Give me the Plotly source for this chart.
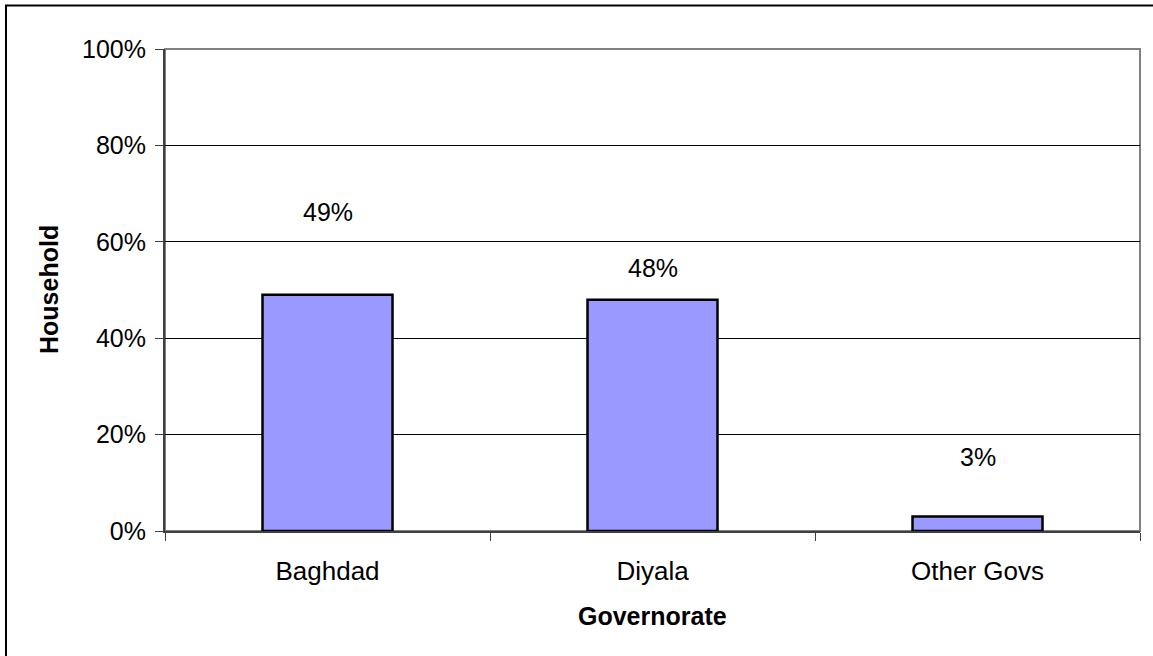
import plotly.graph_objects as go

categories = ["Baghdad", "Diyala", "Other Govs"]
values = [49, 48, 3]
value_labels = ["49%", "48%", "3%"]
label_heights = [66.2, 54.6, 15.4]
y_ticks = [0, 20, 40, 60, 80, 100]
y_tick_text = ["0%", "20%", "40%", "60%", "80%", "100%"]

FONT = "Liberation Sans, Arial, sans-serif"
W, H = 1153, 656
ML, MR, MT, MB = 165, 13, 49, 125
PW, PH = W - ML - MR, H - MT - MB

fig = go.Figure()
fig.add_trace(go.Bar(
    x=categories, y=values, width=0.4,
    marker=dict(color="#9999FF", line=dict(color="black", width=2.5)),
    hoverinfo="skip",
))

for c, t, h in zip(categories, value_labels, label_heights):
    fig.add_annotation(x=c, y=h, text=t, showarrow=False, xref="x", yref="y",
                       yanchor="middle", font=dict(family=FONT, size=25, color="black"))

# axis titles
fig.add_annotation(x=0.5, y=0, xref="paper", yref="paper", yshift=-(616 - (H - MB)),
                   text="<b>Governorate</b>", showarrow=False, yanchor="middle",
                   font=dict(family=FONT, size=25, color="black"))
fig.add_annotation(x=0, y=0.5, xref="paper", yref="paper", xshift=49 - ML,
                   text="<b>Household</b>", showarrow=False, textangle=-90,
                   xanchor="center", yanchor="middle",
                   font=dict(family=FONT, size=25, color="black"))

# plot area frame (grey top/right)
fig.add_shape(type="rect", xref="paper", yref="paper", x0=0, x1=1, y0=0, y1=1,
              line=dict(color="#808080", width=2), layer="below")
# outer chart border
fig.add_shape(type="rect", xref="paper", yref="paper",
              x0=(6 - ML) / PW, x1=(W + 5 - ML) / PW,
              y0=-(H + 5 - (H - MB)) / PH, y1=1 + (MT - 5.5) / PH,
              line=dict(color="black", width=2))

fig.update_layout(
    width=W, height=H,
    margin=dict(l=ML, r=MR, t=MT, b=MB),
    paper_bgcolor="white", plot_bgcolor="white",
    showlegend=False, bargap=0.6,
    font=dict(family=FONT, size=25, color="black"),
    xaxis=dict(
        showline=True, linecolor="#404040", linewidth=2,
        ticks="outside", tickson="boundaries", ticklen=8, tickcolor="#404040",
        tickfont=dict(family=FONT, size=26, color="black"),
        showgrid=False, ticklabelstandoff=16,
    ),
    yaxis=dict(
        range=[0, 100], tickvals=y_ticks, ticktext=y_tick_text,
        showline=True, linecolor="#404040", linewidth=2,
        ticks="outside", ticklen=8, tickcolor="#404040",
        showgrid=True, gridcolor="black", gridwidth=1,
        tickfont=dict(family=FONT, size=25, color="black"),
        zeroline=False, ticklabelstandoff=4,
    ),
)

fig.write_html("out.html", config={"displayModeBar": False},
               post_script="document.body.style.margin='0';document.body.style.overflow='hidden';")
